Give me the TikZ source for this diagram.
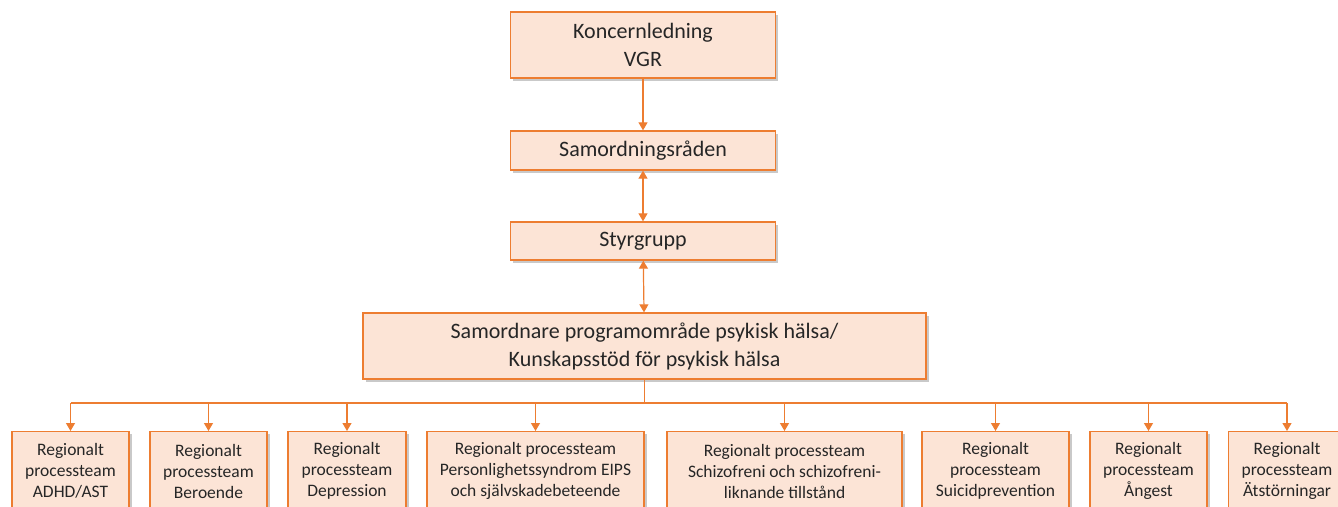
\documentclass[tikz,border=0pt]{standalone}
\usepackage{fontspec}
\setmainfont{Carlito}
\usetikzlibrary{arrows.meta,positioning,shadows}

\definecolor{vgrorange}{RGB}{237,125,49}
\definecolor{vgrfill}{RGB}{252,228,214}
\definecolor{vgrtext}{RGB}{38,38,38}

\tikzset{
  box/.style={draw=vgrorange, fill=vgrfill, line width=1.3pt, text=vgrtext,
    align=center, inner sep=0pt,
    drop shadow={shadow xshift=2.5pt, shadow yshift=-2.5pt, opacity=0.3, fill=black!70}},
  topbox/.style={box, minimum width=265pt, font=\fontsize{22}{28}\selectfont},
  teambox/.style={box, anchor=north, minimum height=79pt, font=\fontsize{17.5}{21}\selectfont},
  link/.style={draw=vgrorange, line width=1.2pt},
  arrowline/.style={link, -{Triangle[width=9pt,length=8pt]}},
  twoway/.style={link, {Triangle[width=9pt,length=8pt]}-{Triangle[width=9pt,length=8pt]}}
}

\begin{document}
\begin{tikzpicture}[x=1pt,y=-1pt]
\path[use as bounding box] (0,0) rectangle (1338,506);
\clip (0,0) rectangle (1338,506);

% ledning
\node[topbox, minimum height=66pt] (koncern) at (643,45) {Koncernledning\\VGR};
\node[topbox, minimum height=39pt] (raden) at (643,150.5) {Samordningsråden};
\node[topbox, minimum height=38pt] (styr) at (643,241) {Styrgrupp};
\node[topbox, minimum width=563pt, minimum height=66pt] (samord) at (644.5,346)
  {Samordnare programområde psykisk hälsa/\\Kunskapsstöd för psykisk hälsa};

\draw[arrowline] (koncern) -- (raden);
\draw[twoway] (raden) -- (styr);
\draw[twoway] (styr) -- (samord);

% processteam
\node[teambox, minimum width=117pt] (adhd) at (70.5,431) {Regionalt\\processteam\\ADHD/AST};
\node[teambox, minimum width=117pt] (beroende) at (208.5,431) {Regionalt\\processteam\\Beroende};
\node[teambox, minimum width=118pt] (depression) at (347,431) {Regionalt\\processteam\\Depression};
\node[teambox, minimum width=217pt] (personlighet) at (535.5,431) {Regionalt processteam\\Personlighetssyndrom EIPS\\och självskadebeteende};
\node[teambox, minimum width=235pt] (schizofreni) at (784.5,431) {Regionalt processteam\\Schizofreni och schizofreni-\\liknande tillstånd};
\node[teambox, minimum width=147pt] (suicid) at (995.5,431) {Regionalt\\processteam\\Suicidprevention};
\node[teambox, minimum width=117pt] (angest) at (1148.5,431) {Regionalt\\processteam\\Ångest};
\node[teambox, minimum width=117pt] (atst) at (1287,431) {Regionalt\\processteam\\Ätstörningar};

\coordinate (bus) at (644.5,403);
\draw[link] (samord) -- (bus);
\draw[link] (adhd.north |- bus) -- (atst.north |- bus);
\foreach \t in {adhd,beroende,depression,personlighet,schizofreni,suicid,angest,atst}
  \draw[arrowline] (\t.north |- bus) -- (\t.north);
\end{tikzpicture}
\end{document}
